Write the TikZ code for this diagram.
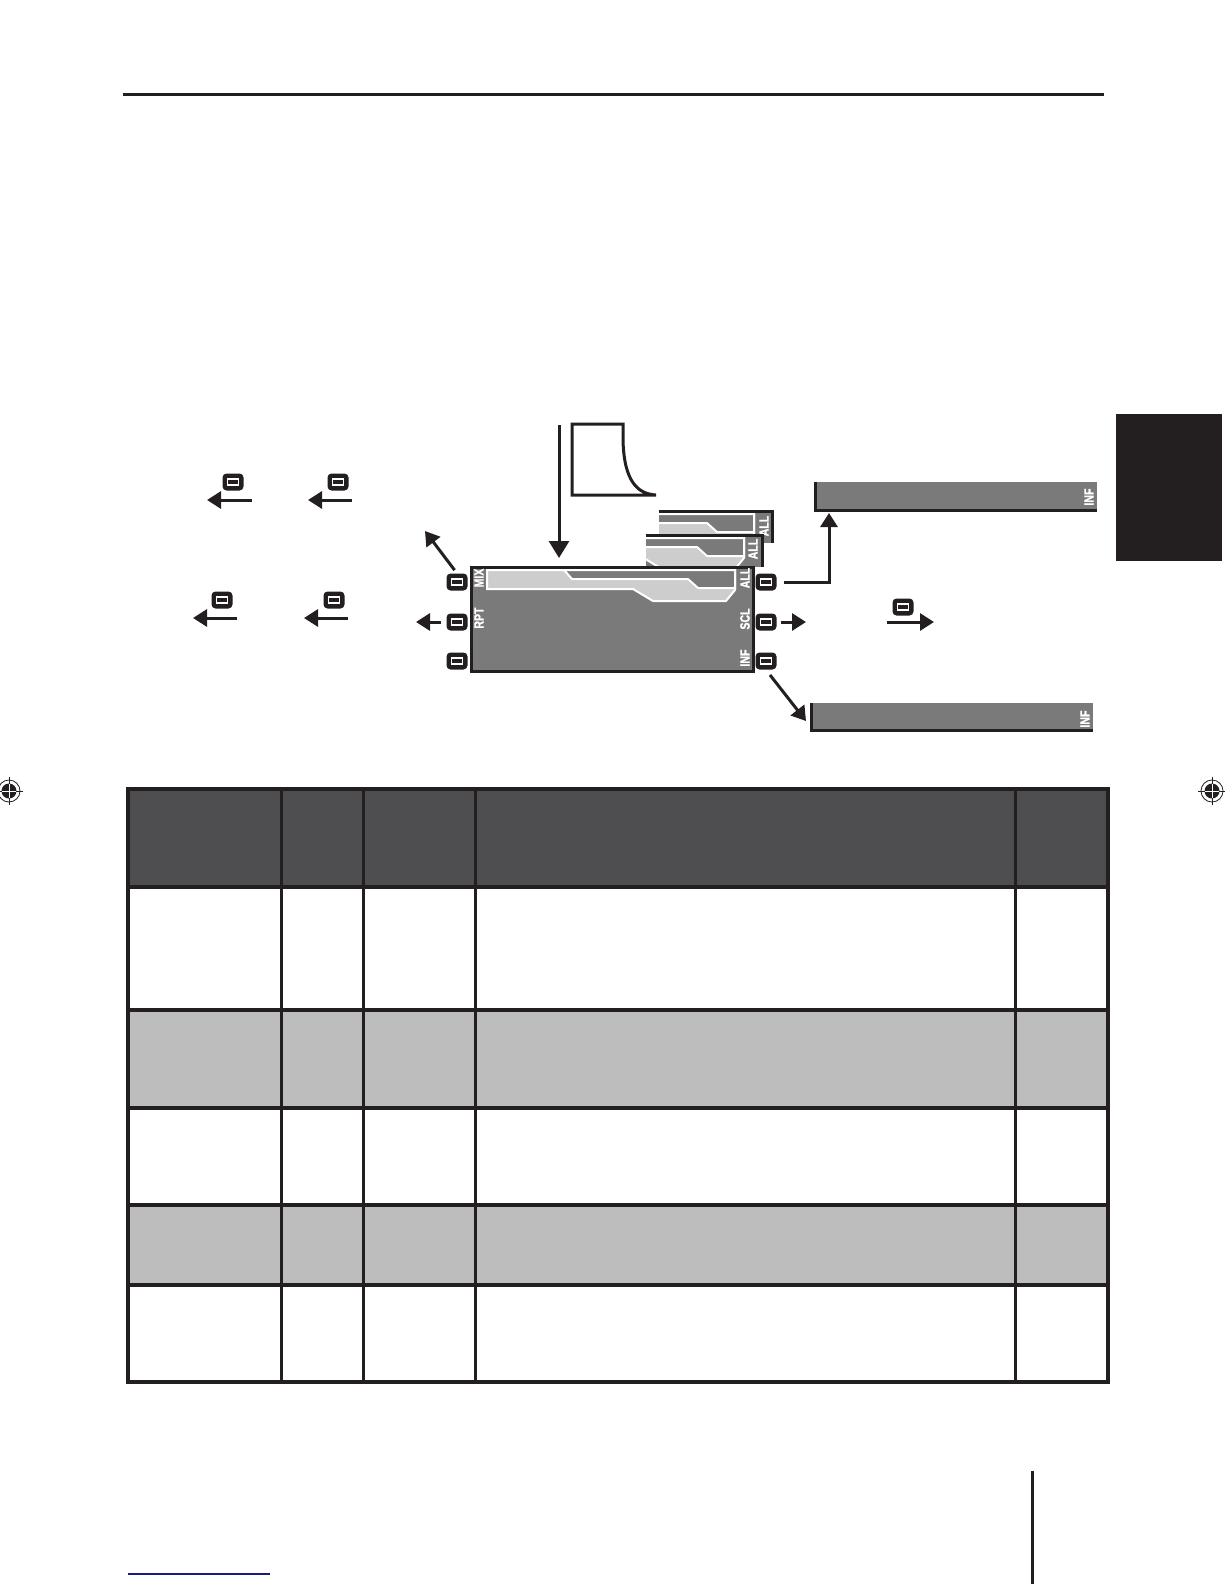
\documentclass[tikz,border=0pt]{standalone}
\usepackage{fontspec}
\newfontfamily\condfont{Liberation Sans}[UprightFont={* Bold}, FakeStretch=0.78, FakeBold=1.2]
\usetikzlibrary{arrows.meta}
\definecolor{ink}{HTML}{231F20}
\definecolor{lcd}{HTML}{7A7A7A}
\definecolor{lcdlight}{HTML}{CDCDCD}
\definecolor{hdr}{HTML}{4E4D4F}
\definecolor{rowgray}{HTML}{BDBDBD}
\definecolor{linkblue}{HTML}{1A1A80}
\newcommand\lcdinnershapes{%
  \filldraw[fill=lcdlight, draw=white, line width=2pt] (487,570) -- (735,570) -- (735,590) -- (726,601) -- (653,601) -- (633,589) -- (487,589) -- cycle;
  \filldraw[fill=lcd, draw=white, line width=2pt] (564,570) -- (572,579) -- (688,579) -- (698,588) -- (735,588) -- (735,570) -- cycle;
}
\tikzset{
  arr/.style={draw=ink, line width=3pt, -{Triangle[length=14pt,width=17pt]}},
  btn/.style={fill=ink, rounded corners=4pt, minimum width=21pt, minimum height=17pt, inner sep=0pt,
    path picture={\draw[white, line width=1.5pt, sharp corners]
      ([xshift=-5.5pt,yshift=-3pt]path picture bounding box.center) rectangle
      ([xshift=5.5pt,yshift=3pt]path picture bounding box.center);}},
  lbl/.style={text=white, font=\condfont\fontsize{13.5}{13.5}\selectfont, rotate=90, inner sep=0pt},
  regmark/.style={ink, line width=0.8pt},
}
\begin{document}
\begin{tikzpicture}[x=1pt, y=-1pt]
\useasboundingbox (0,0) rectangle (1224,1584);

% top rule
\draw[ink, line width=3pt] (123,95) -- (1104,95);
% side tab
\fill[ink] (1116,414) rectangle (1222,561);

% registration marks
\foreach \cx/\nm in {9/regL, 1212/regR} {
  \coordinate (\nm) at (\cx,791);
  \draw[regmark] (\nm) circle (11pt);
  \fill[ink] (\nm) circle (7.5pt);
  \draw[regmark] ([xshift=-14pt]\nm) -- ([xshift=14pt]\nm);
  \draw[regmark] ([yshift=-14pt]\nm) -- ([yshift=14pt]\nm);
  \draw[white, line width=0.8pt] ([xshift=-7pt]\nm) -- ([xshift=7pt]\nm);
  \draw[white, line width=0.8pt] ([yshift=-7pt]\nm) -- ([yshift=7pt]\nm);
}

% key graphic
\draw[ink, line width=3pt, line join=miter] (656,495) -- (572,495) -- (572,424) -- (623,424) -- (623,440) .. controls (624,482) and (638,494) .. (656,495);

% stacked display panel A (back)
\begin{scope}
  \clip (659,512) rectangle (772,543);
  \fill[lcd] (659,512) rectangle (772,543);
  \begin{scope}[shift={(19,-56)}]\lcdinnershapes\end{scope}
\end{scope}
\draw[ink, line width=3pt] (659,511.5) -- (772,511.5) -- (772,543);
\node[lbl] (allA) at (764,526) {ALL};

% stacked display panel B
\begin{scope}
  \clip (646,536) rectangle (762,567);
  \fill[lcd] (646,536) rectangle (762,567);
  \begin{scope}[shift={(9,-32)}]\lcdinnershapes\end{scope}
\end{scope}
\draw[ink, line width=3pt] (646,535.5) -- (762,535.5) -- (762,567);
\node[lbl] (allB) at (753,549) {ALL};

% main display
\node[draw=ink, fill=lcd, line width=3pt, minimum width=282pt, minimum height=104pt, inner sep=0pt] (disp) at (612,619) {};
\lcdinnershapes
\node[lbl] (mix) at (479,578) {MIX};
\node[lbl] (rpt) at (479,618) {RPT};
\node[lbl] (allM) at (745,578) {ALL};
\node[lbl] (scl) at (745,619) {SCL};
\node[lbl] (infM) at (745,658) {INF};

% buttons at the display
\node[btn] (bL1) at (457,582) {};
\node[btn] (bL2) at (457,622) {};
\node[btn] (bL3) at (457,661) {};
\node[btn] (bR1) at (766,582) {};
\node[btn] (bR2) at (766,622) {};
\node[btn] (bR3) at (766,661) {};

% down arrow into display
\coordinate (dnS) at (559,425);
\coordinate (dnT) at (559,558);
\draw[arr, -{Triangle[length=17pt,width=20pt]}] (dnS) -- (dnT);

% arrows at the left of the display
\coordinate (ulT) at (425,531);
\draw[arr, shorten <=4pt] (bL1.north) -- (ulT);
\coordinate (rptT) at (416,622);
\draw[arr, shorten <=5pt] (bL2.west) -- (rptT);

% INF panels
\node[fill=lcd, minimum width=283pt, minimum height=30pt, inner sep=0pt] (infA) at (955.5,497) {};
\draw[ink, line width=3pt] (815.5,482) -- (815.5,510.5) -- (1097,510.5);
\node[lbl] (infAl) at (1089,497) {INF};
\node[fill=lcd, minimum width=283pt, minimum height=29pt, inner sep=0pt] (infB) at (951.5,717.5) {};
\draw[ink, line width=3pt] (811.5,703) -- (811.5,730.5) -- (1093,730.5);
\node[lbl] (infBl) at (1085,719) {INF};

% arrows at the right of the display
\coordinate (allT) at (829,513);
\draw[arr, shorten <=7pt] (bR1.east) -| (allT);
\coordinate (sclT) at (806,622);
\draw[arr, shorten <=4pt] (bR2.east) -- (sclT);
\coordinate (infS) at (770,675);
\coordinate (infT) at (806,721);
\draw[arr] (infS) -- (infT);
\node[btn] (bF) at (903,607) {};
\coordinate (fS) at (887,622);
\coordinate (fT) at (934,622);
\draw[arr] (fS) -- (fT);

% left arrows with buttons
\node[btn] (bA1) at (233,482) {};
\coordinate (a1S) at (252,500); \coordinate (a1T) at (207,500);
\draw[arr] (a1S) -- (a1T);
\node[btn] (bA2) at (338,482) {};
\coordinate (a2S) at (352,500); \coordinate (a2T) at (308,500);
\draw[arr] (a2S) -- (a2T);
\node[btn] (bA3) at (222,600) {};
\coordinate (a3S) at (237,618); \coordinate (a3T) at (193,618);
\draw[arr] (a3S) -- (a3T);
\node[btn] (bA4) at (334,600) {};
\coordinate (a4S) at (348,618); \coordinate (a4T) at (304,618);
\draw[arr] (a4S) -- (a4T);

% table
\fill[hdr] (128,789) rectangle (1108,887);
\fill[rowgray] (128,1010) rectangle (1108,1108);
\fill[rowgray] (128,1205) rectangle (1108,1285);
\foreach \yy in {1010,1108,1205,1285} {
  \draw[ink, line width=3.5pt] (128,\yy) -- (1108,\yy);
}
\draw[ink, line width=4pt] (128,887) -- (1108,887);
\foreach \xx in {281,363,475,1015} {
  \draw[ink, line width=3pt] (\xx,789) -- (\xx,1382);
}
\draw[ink, line width=4pt] (128,789) rectangle (1108,1382);

% footer
\draw[linkblue, line width=2pt] (128,1574) -- (270,1574);
\draw[ink, line width=3pt] (1032,1471) -- (1032,1584);
\end{tikzpicture}
\end{document}
